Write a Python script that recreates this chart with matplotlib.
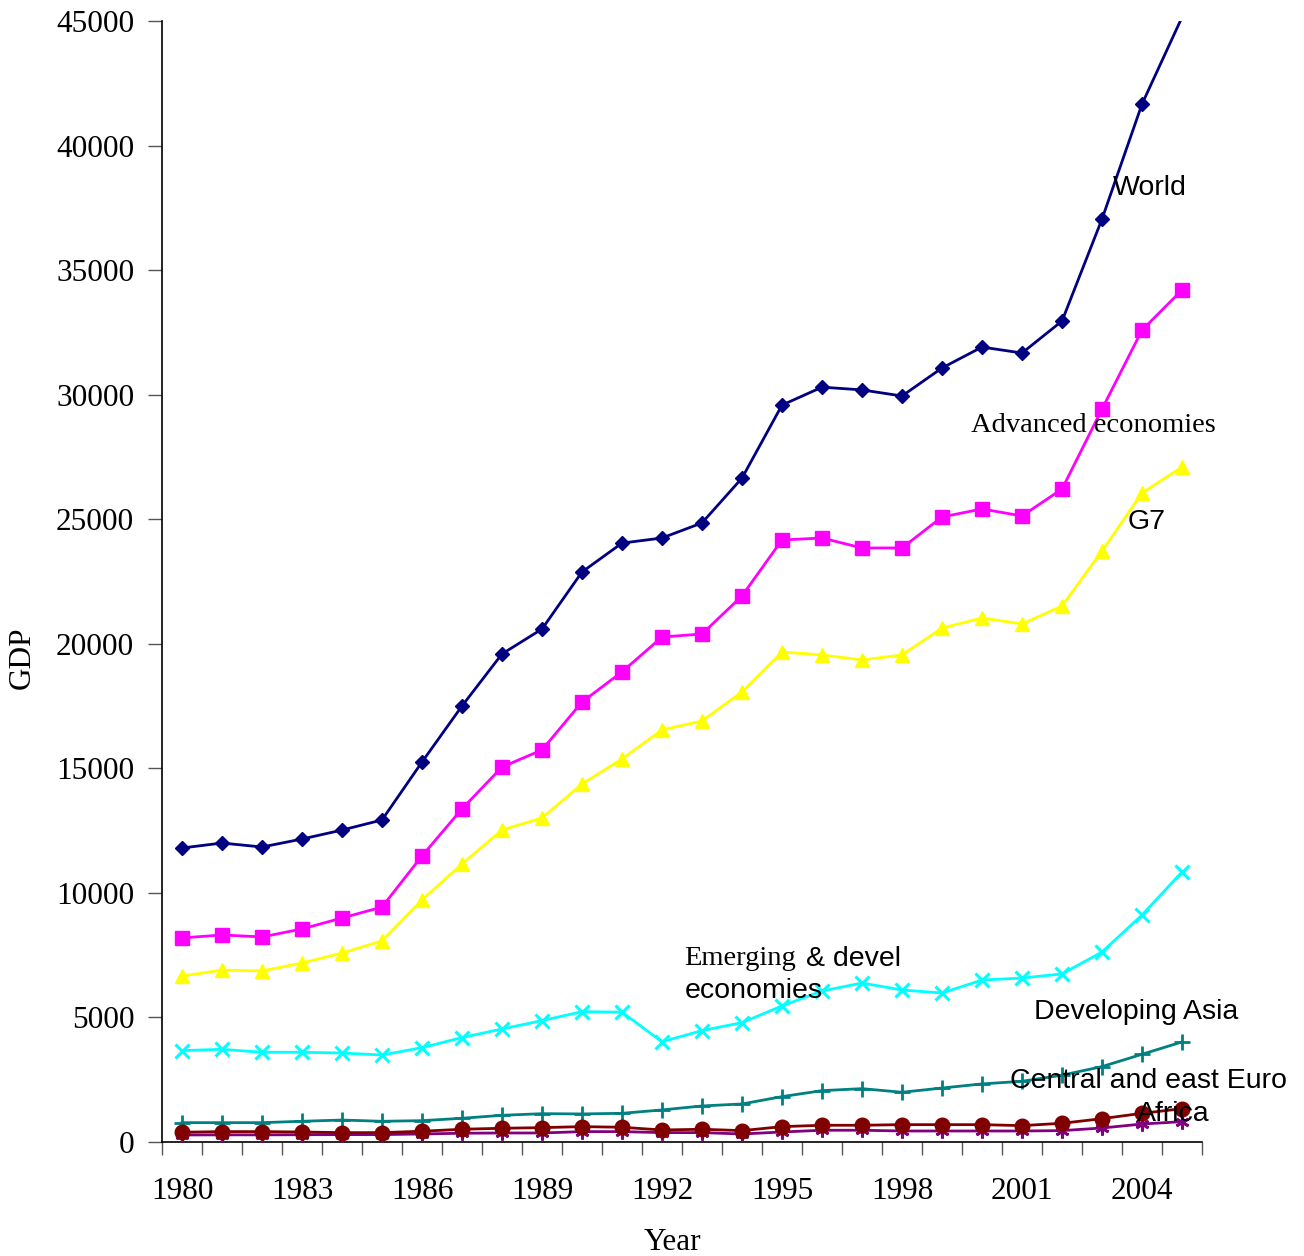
import matplotlib
matplotlib.use("Agg")
import matplotlib.pyplot as plt
from matplotlib.ticker import FixedLocator, NullFormatter

years = list(range(1980, 2006))

world = [11800, 12000, 11840, 12160, 12520, 12925, 15250, 17500, 19590, 20590,
         22880, 24040, 24245, 24850, 26650, 29580, 30300, 30190, 29945, 31070,
         31910, 31670, 32955, 37050, 41665, 45150]
advanced = [8190, 8310, 8230, 8550, 8990, 9430, 11480, 13370, 15050, 15735,
            17660, 18870, 20270, 20390, 21920, 24165, 24245, 23845, 23845, 25090,
            25410, 25130, 26210, 29420, 32590, 34200]
g7 = [6660, 6900, 6865, 7185, 7585, 8070, 9715, 11160, 12525, 13005,
      14370, 15375, 16540, 16900, 18065, 19670, 19550, 19350, 19550, 20630,
      21035, 20795, 21515, 23725, 26050, 27095]
emerging = [3665, 3720, 3600, 3600, 3570, 3490, 3785, 4190, 4535, 4870,
            5230, 5210, 4020, 4470, 4790, 5460, 6060, 6380, 6100, 5980,
            6500, 6580, 6745, 7625, 9110, 10840]
dev_asia = [775, 775, 775, 830, 880, 830, 855, 950, 1070, 1135,
            1125, 1150, 1285, 1445, 1525, 1820, 2060, 2140, 1995, 2165,
            2330, 2435, 2680, 3025, 3520, 4015]
cee = [390, 415, 415, 400, 375, 375, 430, 510, 550, 575,
       615, 590, 480, 510, 455, 615, 670, 670, 695, 695,
       695, 655, 750, 935, 1150, 1335]
africa = [280, 285, 285, 290, 295, 295, 320, 350, 360, 360,
          415, 415, 375, 375, 320, 400, 470, 470, 440, 440,
          440, 440, 455, 560, 720, 815]

x_labels = [1980, 1983, 1986, 1989, 1992, 1995, 1998, 2001, 2004]
y_ticks = list(range(0, 45001, 5000))
y_max = 45000

serif = "Liberation Serif"
sans = "Liberation Sans"
tick_fs = 22.5
fs = 20.5

W, H = 1304, 1256
fig = plt.figure(figsize=(W / 100, H / 100), dpi=100)
ax = fig.add_axes([0.1242, 0.0908, 0.7976, 0.8925])


def visible(values):
    # only put markers on points that lie inside the value range
    return [i for i, v in enumerate(values) if v <= y_max]


lw = 2.0
ax.plot(years, world, color="#000080", marker="D", markersize=7, lw=lw, zorder=5,
        markevery=visible(world))
ax.plot(years, advanced, color="#FF00FF", marker="s", markersize=10, lw=lw, zorder=5)
ax.plot(years, g7, color="#FFFF00", marker="^", markersize=10, lw=lw, zorder=5)
ax.plot(years, emerging, color="#00FFFF", marker="x", markersize=10, mew=2.2, lw=lw, zorder=5)
ax.plot(years, dev_asia, color="#008080", marker="+", markersize=11, mew=2, lw=lw, zorder=5)
ax.plot(years, africa, color="#800080", marker=(6, 2, 0), markersize=10, mew=2, lw=lw, zorder=5)
ax.plot(years, cee, color="#800000", marker="o", markersize=10.5, lw=lw, zorder=6)

ax.set_xlim(1979.5, 2005.5)
ax.set_ylim(0, y_max)

for s in ("top", "right"):
    ax.spines[s].set_visible(False)
for s in ("left", "bottom"):
    ax.spines[s].set_linewidth(1.2)

# category boundaries carry the tick marks, labels sit at category centres
ax.xaxis.set_major_locator(FixedLocator([y - 0.5 for y in range(1980, 2007)]))
ax.xaxis.set_major_formatter(NullFormatter())
ax.xaxis.set_minor_locator(FixedLocator(x_labels))
ax.set_xticklabels([str(v) for v in x_labels], minor=True)
ax.tick_params(axis="x", which="major", direction="out", length=9, width=1.0, color="#555555")
ax.tick_params(axis="x", which="minor", length=0, pad=25, labelsize=tick_fs)
for lab in ax.get_xticklabels(minor=True):
    lab.set_fontfamily(serif)

ax.set_yticks(y_ticks)
ax.set_yticklabels([str(v) for v in y_ticks])
ax.tick_params(axis="y", direction="out", length=10, width=1.0, color="#555555", pad=10,
               labelsize=tick_fs)
for lab in ax.get_yticklabels():
    lab.set_fontfamily(serif)

# axis titles
fig.text(22 / W, 1 - 658 / H, "GDP", rotation=90, ha="center", va="center",
         fontfamily=serif, fontsize=tick_fs)
fig.text(672 / W, 1 - 1243 / H, "Year", ha="center", va="center",
         fontfamily=serif, fontsize=tick_fs)

ax.text(2003.28, 38290, "World", fontfamily=sans, fontsize=fs, va="center", zorder=7)
ax.text(1999.73, 28780, "Advanced economies", fontfamily=serif, fontsize=fs, va="center", zorder=7)
ax.text(2003.63, 24890, "G7", fontfamily=sans, fontsize=fs, va="center", zorder=7)
ax.text(1992.56, 7345, "Emerging", fontfamily=serif, fontsize=fs, va="center", zorder=7)
ax.text(1995.6, 7345, "& devel", fontfamily=sans, fontsize=fs, va="center", zorder=7)
ax.text(1992.56, 6060, "economies", fontfamily=sans, fontsize=fs, va="center", zorder=7)
ax.text(2001.30, 5220, "Developing Asia", fontfamily=sans, fontsize=fs, va="center", zorder=7)
ax.text(2000.70, 2450, "Central and east Euro", fontfamily=sans, fontsize=fs, va="center", zorder=7)
ax.text(2003.88, 1125, "Africa", fontfamily=sans, fontsize=fs, va="center", zorder=7)

fig.savefig("out.png", dpi=100)
